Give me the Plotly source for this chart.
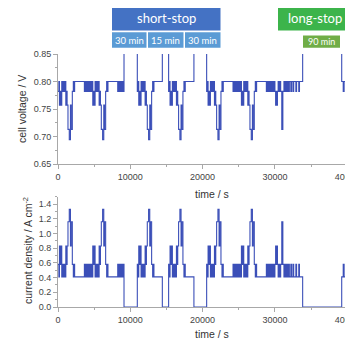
import plotly.graph_objects as go

# ---- data ----
# operating levels: index 0 = stop (OCV, off-scale voltage)
LEVEL_CURRENT = [0.0, 0.41, 0.58, 0.83, 1.16, 1.33]
LEVEL_VOLTAGE = [0.95, 0.800, 0.782, 0.757, 0.713, 0.694]

# one load cycle (relative time in s, level index)
CYCLE_T = [0, 120, 200, 330, 420, 520, 640, 760, 860, 980, 1080, 1180, 1260,
           1380, 1560, 1720, 1820, 1980, 2120, 2200, 2300, 3650, 3730, 3820,
           3920, 4000, 4120, 4200, 4330, 4420, 4520]
CYCLE_LEVEL = [2, 1, 3, 2, 3, 1, 2, 1, 2, 1, 3, 2, 3,
               4, 5, 3, 4, 2, 1, 2, 1, 2, 1, 2,
               1, 2, 1, 2, 1, 2, 1]
CYCLE_STARTS = [0, 4610, 10970, 15300, 20560, 25170]
CYCLE_ENDS = [4610, 9130, 14430, 18800, 25170, 29780]

# partial cycle before the long stop
PARTIAL_T = [29780, 29900, 30000, 30100, 30180, 30250, 30350, 30450, 30550,
             30700, 30800, 30950, 31100, 31250, 31400, 31500, 31650, 31750,
             31900, 32000, 32200, 32300, 32500, 32600, 32900, 33000, 33300,
             33400]
PARTIAL_LEVEL = [2, 1, 2, 3, 2, 3, 2, 1, 2,
                 1, 2, 4, 2, 1, 2, 1, 2, 1,
                 2, 1, 2, 1, 2, 1, 2, 1, 2,
                 1]

# stops (start, end) in s
STOP_START = [9130, 14430, 18800, 33840]
STOP_END = [10970, 15300, 20560, 39240]

# restart after the long stop
TAIL_T = [39240, 39450, 39550, 39750, 39850, 40150, 40250, 40500, 40600, 40800]
TAIL_LEVEL = [1, 2, 1, 2, 1, 2, 1, 2, 1, 1]

X_TICKS = [0, 10000, 20000, 30000, 40000]

# ---- assemble step series ----
pts = []
for s, e in zip(CYCLE_STARTS, CYCLE_ENDS):
    for dt, lv in zip(CYCLE_T, CYCLE_LEVEL):
        if s + dt < e:
            pts.append((s + dt, lv))
for t, lv in zip(PARTIAL_T, PARTIAL_LEVEL):
    pts.append((t, lv))
for s in STOP_START:
    pts.append((s, 0))
for t, lv in zip(TAIL_T, TAIL_LEVEL):
    pts.append((t, lv))
pts.sort(key=lambda p: p[0])
time = [p[0] for p in pts]
current = [LEVEL_CURRENT[p[1]] for p in pts]
voltage = [LEVEL_VOLTAGE[p[1]] for p in pts]

LINE = dict(color="#3b4fb8", width=1.1, shape="hv")
fig = go.Figure()
fig.add_trace(go.Scatter(x=time, y=voltage, mode="lines", line=LINE,
                         xaxis="x", yaxis="y", showlegend=False))
fig.add_trace(go.Scatter(x=time, y=current, mode="lines", line=LINE,
                         xaxis="x2", yaxis="y2", showlegend=False))

# page body has an 8px margin: the figure origin sits at (8, 8) of the window
OFF = 8
W, H = 353 - OFF, 340 - OFF
L, R, T, B = 58 - OFF, 0, 54 - OFF, 340 - 307
PW, PH = W - L - R, H - T - B


def xp(px):  # reference window pixel -> paper
    return (px - OFF - L) / PW


def yp(py):
    return (H - B - (py - OFF)) / PH


AX = dict(showline=True, linecolor="#a8a8a8", linewidth=1, ticks="outside",
          ticklen=4, tickcolor="#a8a8a8", showgrid=False, zeroline=False,
          tickfont=dict(family="Liberation Sans, Arial", size=9, color="#444"),
          automargin=False, ticklabeloverflow="allow")
XR = [0, PW / 72.3 * 10000]
xa = dict(AX, range=XR, tickvals=X_TICKS, tickformat="d",
          minor=dict(dtick=5000, ticklen=2, tickcolor="#a8a8a8", ticks="outside"))

fig.update_layout(
    width=W, height=H, margin=dict(l=L, r=R, t=T, b=B),
    paper_bgcolor="white", plot_bgcolor="white",
    xaxis=dict(xa, anchor="y"),
    yaxis=dict(AX, domain=[yp(164), 1], range=[0.65, 0.85], dtick=0.05,
               tickformat=".2f", anchor="x",
               minor=dict(dtick=0.025, ticklen=2, tickcolor="#a8a8a8", ticks="outside")),
    xaxis2=dict(xa, anchor="y2"),
    yaxis2=dict(AX, domain=[0, yp(196.7)], range=[0, 1.5],
                tickvals=[0, 0.2, 0.4, 0.6, 0.8, 1.0, 1.2, 1.4],
                tickformat=".1f", anchor="x2",
                minor=dict(dtick=0.1, ticklen=2, tickcolor="#a8a8a8", ticks="outside")),
)

TF = dict(family="Liberation Sans, Arial", size=10.5, color="#333")
ann = [
    dict(text="cell voltage / V", x=xp(22), y=yp(109), textangle=-90, font=TF),
    dict(text="current density / A cm<sup>-2</sup>", x=xp(27), y=yp(251), textangle=-90, font=TF),
    dict(text="time / s", x=xp(212), y=yp(194), font=TF),
    dict(text="time / s", x=xp(212), y=yp(334), font=TF),
]
for a in ann:
    a.update(xref="paper", yref="paper", showarrow=False, xanchor="center", yanchor="middle")

shapes = []
BOXES = [  # (x0, x1, y0, y1, color, text, fontsize) in reference window pixels
    (112, 220.5, 5, 30.5, "#4472c4", "short-stop", 13),
    (112, 146.5, 32.3, 47.7, "#5b9bd5", "30 min", 9.5),
    (148, 183.5, 32.3, 47.7, "#5b9bd5", "15 min", 9.5),
    (185, 220.5, 32.3, 47.7, "#5b9bd5", "30 min", 9.5),
    (278, 352.7, 5, 30.5, "#3cb44b", "long-stop", 13),
    (303, 340, 35.5, 47.7, "#70ad47", "90 min", 9),
]
for x0, x1, y0, y1, c, txt, fs in BOXES:
    shapes.append(dict(type="rect", xref="paper", yref="paper", x0=xp(x0), x1=xp(x1),
                       y0=yp(y1), y1=yp(y0), fillcolor=c, line=dict(width=0), layer="above"))
    ann.append(dict(text=txt, xref="paper", yref="paper", x=xp((x0 + x1) / 2),
                    y=yp((y0 + y1) / 2), showarrow=False, xanchor="center", yanchor="middle",
                    font=dict(family="Lato, Open Sans", size=fs, color="white")))

fig.update_layout(annotations=ann, shapes=shapes)
fig.write_html("out.html")
